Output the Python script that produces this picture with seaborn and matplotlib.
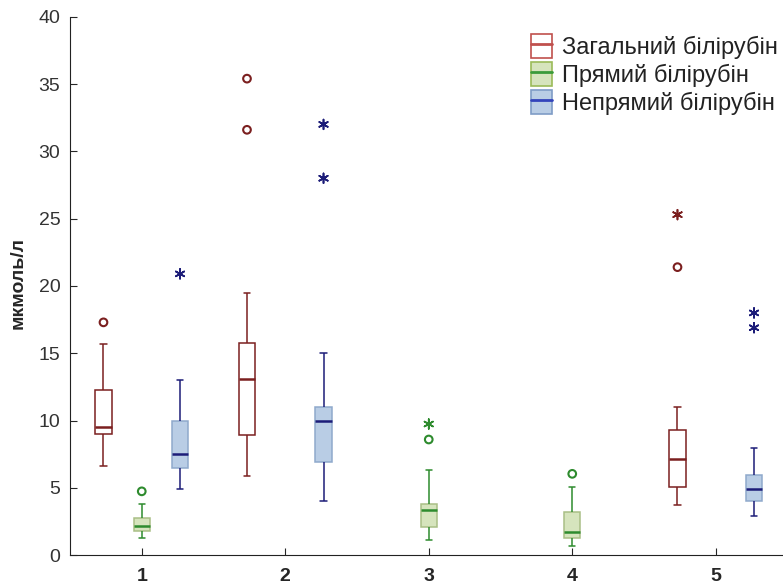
import numpy as np
import pandas as pd
import seaborn as sns
import matplotlib.pyplot as plt
from matplotlib.patches import Patch
from matplotlib.lines import Line2D

groups = ['1', '2', '3', '4', '5']
series = ['Загальний білірубін', 'Прямий білірубін', 'Непрямий білірубін']

# lower whisker, q1, median, q3, upper whisker (None = no box in that group)
total_box = [[6.6, 9.0, 9.5, 12.3, 15.7], [5.9, 8.9, 13.1, 15.8, 19.5], None, None, [3.7, 5.1, 7.15, 9.3, 11.0]]
direct_box = [[1.25, 1.8, 2.2, 2.75, 3.8], None, [1.15, 2.1, 3.35, 3.8, 6.35], [0.7, 1.3, 1.7, 3.25, 5.05], None]
indirect_box = [[4.9, 6.45, 7.5, 10.0, 13.0], [4.0, 6.95, 10.0, 11.0, 15.0], None, None, [2.95, 4.0, 4.95, 6.0, 8.0]]

# outliers (circles) and extremes (asterisks)
total_out = [[17.3], [35.4, 31.6], [], [], [21.4]]
direct_out = [[4.75], [], [8.6], [6.05], []]
indirect_out = [[], [], [], [], []]
total_ext = [[], [], [], [], [25.3]]
direct_ext = [[], [], [9.75], [], []]
indirect_ext = [[20.9], [32.0, 28.0], [], [], [18.0, 16.9]]

line_colors = ['#7b1f1f', '#2e8b2e', '#1c1c78']
fill_colors = ['white', '#d6e4bd', '#b9cde5']
box_edges = ['#7b1f1f', '#a9bf86', '#8fa9cc']
legend_edges = ['#c0504d', '#9bbb59', '#7f9cc6']
legend_lines = ['#c0504d', '#3a9b3a', '#3344bb']

boxes = [total_box, direct_box, indirect_box]
outs = [total_out, direct_out, indirect_out]
exts = [total_ext, direct_ext, indirect_ext]


def long_form(per_group, name):
    rows = []
    for g, vals in zip(groups, per_group):
        if vals:
            for v in vals:
                rows.append((g, name, v))
    return pd.DataFrame(rows, columns=['group', 'series', 'value'])


sns.set_style('ticks')
plt.rcParams['font.family'] = ['Liberation Sans', 'DejaVu Sans']

fig = plt.figure(figsize=(7.83, 5.87), dpi=100)
ax = fig.add_axes([70 / 783, 1 - 555.3 / 587, 717.5 / 783, 538.6 / 587])
pal = dict(zip(series, fill_colors))

for i, name in enumerate(series):
    d = long_form(boxes[i], name)
    sns.boxplot(data=d, x='group', y='value', hue='series', order=groups, hue_order=series,
                palette=pal, dodge=True, width=0.8, gap=0.58, whis=np.inf, showfliers=False,
                saturation=1, linecolor=line_colors[i], linewidth=1.1,
                boxprops={'edgecolor': box_edges[i]},
                medianprops={'color': line_colors[i], 'linewidth': 1.8},
                legend=False, ax=ax)

# narrower whisker caps, like the original
for ln in ax.lines:
    xs, ys = ln.get_xdata(), ln.get_ydata()
    if len(xs) == 2 and ys[0] == ys[1] and ln.get_linewidth() < 1.5:
        mid = (xs[0] + xs[1]) / 2
        ln.set_xdata([mid - 0.022, mid + 0.022])

for i, name in enumerate(series):
    for vals, mk, sz, lw in [(outs[i], 'o', 5.5, 1.5), (exts[i], (6, 2, 0), 7, 1.2)]:
        d = long_form(vals, name)
        if d.empty:
            continue
        n0 = len(ax.collections)
        sns.stripplot(data=d, x='group', y='value', hue='series', order=groups, hue_order=series,
                      palette=pal, dodge=True, jitter=False, marker=mk, size=sz,
                      legend=False, ax=ax)
        for c in ax.collections[n0:]:
            c.set_facecolor('none')
            c.set_edgecolor(line_colors[i])
            c.set_linewidth(lw)

ax.set_xlim(-0.5, 4.5)
ax.set_ylim(0, 40)
ax.set_yticks(range(0, 41, 5))
ax.set_xlabel('')
ax.set_ylabel('мкмоль/л', fontsize=14, fontweight='bold')
ax.yaxis.set_label_coords(-0.06, 0.505)
sns.despine(ax=ax)
ax.spines['left'].set_color('#222222')
ax.spines['bottom'].set_color('#222222')
ax.tick_params(axis='y', direction='in', length=5, labelsize=14, labelcolor='#333333', pad=7)
ax.tick_params(axis='x', direction='in', length=5, labelsize=14, pad=9)
for t in ax.get_xticklabels():
    t.set_fontweight('bold')

handles = [(Patch(facecolor=fill_colors[i], edgecolor=legend_edges[i], linewidth=1.2),
            Line2D([], [], color=legend_lines[i], linewidth=2)) for i in range(3)]
fig.legend(handles, series, loc='upper right', bbox_to_anchor=(778 / 783, 1 - 34 / 587),
           frameon=False, fontsize=17, handlelength=0.85, handleheight=1.2,
           handletextpad=0.45, labelspacing=0.12, borderpad=0, borderaxespad=0,
           labelcolor='#222222')

fig.savefig('out.png', dpi=100)
